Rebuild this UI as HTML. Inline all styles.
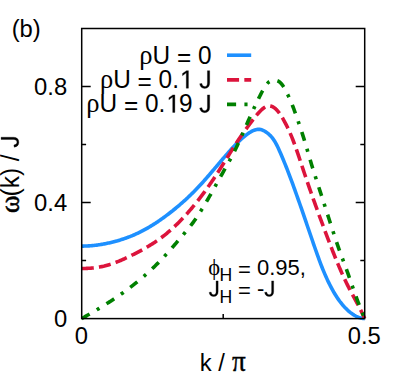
<!DOCTYPE html>
<html><head><meta charset="utf-8"><title>plot</title>
<style>
html,body{margin:0;padding:0;background:#fff;}
body{width:407px;height:375px;overflow:hidden;}
svg{display:block;}
text{font-family:"Liberation Sans",sans-serif;fill:#000;}
.sy{font-family:"Liberation Serif",serif;}
</style></head><body>
<svg width="407" height="375" viewBox="0 0 407 375">
<rect width="407" height="375" fill="#fff"/>
<g fill="none" stroke-width="3.6" stroke-linejoin="round">
<path d="M81.70,246.10 L82.65,246.10 L83.59,246.08 L84.54,246.06 L85.49,246.03 L86.43,246.00 L87.38,245.95 L88.33,245.90 L89.27,245.84 L90.22,245.77 L91.16,245.70 L92.11,245.61 L93.06,245.52 L94.00,245.42 L94.95,245.32 L95.90,245.21 L96.84,245.09 L97.79,244.96 L98.74,244.82 L99.68,244.68 L100.63,244.53 L101.58,244.38 L102.52,244.22 L103.47,244.05 L104.42,243.87 L105.36,243.69 L106.31,243.50 L107.26,243.30 L108.20,243.10 L109.15,242.89 L110.09,242.68 L111.04,242.46 L111.99,242.23 L112.93,242.00 L113.88,241.76 L114.83,241.51 L115.77,241.25 L116.72,240.99 L117.67,240.73 L118.61,240.45 L119.56,240.17 L120.51,239.88 L121.45,239.58 L122.40,239.28 L123.35,238.96 L124.29,238.64 L125.24,238.32 L126.18,237.98 L127.13,237.64 L128.08,237.28 L129.02,236.92 L129.97,236.56 L130.92,236.18 L131.86,235.79 L132.81,235.40 L133.76,234.99 L134.70,234.58 L135.65,234.16 L136.60,233.73 L137.54,233.29 L138.49,232.84 L139.44,232.38 L140.38,231.91 L141.33,231.43 L142.28,230.94 L143.22,230.45 L144.17,229.94 L145.11,229.42 L146.06,228.90 L147.01,228.36 L147.95,227.82 L148.90,227.27 L149.85,226.71 L150.79,226.14 L151.74,225.56 L152.69,224.97 L153.63,224.37 L154.58,223.77 L155.53,223.16 L156.47,222.53 L157.42,221.90 L158.37,221.27 L159.31,220.62 L160.26,219.97 L161.21,219.31 L162.15,218.64 L163.10,217.96 L164.04,217.28 L164.99,216.58 L165.94,215.88 L166.88,215.18 L167.83,214.46 L168.78,213.74 L169.72,213.01 L170.67,212.28 L171.62,211.54 L172.56,210.79 L173.51,210.03 L174.46,209.26 L175.40,208.49 L176.35,207.71 L177.30,206.92 L178.24,206.13 L179.19,205.32 L180.13,204.51 L181.08,203.69 L182.03,202.86 L182.97,202.02 L183.92,201.18 L184.87,200.32 L185.81,199.46 L186.76,198.58 L187.71,197.70 L188.65,196.80 L189.60,195.90 L190.55,194.99 L191.49,194.06 L192.44,193.13 L193.39,192.19 L194.33,191.23 L195.28,190.27 L196.23,189.30 L197.17,188.31 L198.12,187.31 L199.06,186.31 L200.01,185.29 L200.96,184.26 L201.90,183.22 L202.85,182.17 L203.80,181.11 L204.74,180.04 L205.69,178.96 L206.64,177.88 L207.58,176.79 L208.53,175.70 L209.48,174.60 L210.42,173.50 L211.37,172.39 L212.32,171.28 L213.26,170.17 L214.21,169.05 L215.15,167.94 L216.10,166.82 L217.05,165.71 L217.99,164.59 L218.94,163.48 L219.89,162.36 L220.83,161.25 L221.78,160.15 L222.73,159.04 L223.67,157.94 L224.62,156.84 L225.57,155.75 L226.51,154.66 L227.46,153.58 L228.41,152.50 L229.35,151.44 L230.30,150.38 L231.25,149.33 L232.19,148.30 L233.14,147.27 L234.08,146.26 L235.03,145.27 L235.98,144.29 L236.92,143.32 L237.87,142.38 L238.82,141.45 L239.76,140.54 L240.71,139.66 L241.66,138.79 L242.60,137.95 L243.55,137.14 L244.50,136.35 L245.44,135.59 L246.39,134.86 L247.34,134.16 L248.28,133.49 L249.23,132.85 L250.17,132.25 L251.12,131.68 L252.07,131.17 L253.01,130.70 L253.96,130.30 L254.91,129.95 L255.85,129.68 L256.80,129.48 L257.75,129.36 L258.69,129.32 L259.64,129.38 L260.59,129.53 L261.53,129.78 L262.48,130.11 L263.43,130.53 L264.37,131.03 L265.32,131.59 L266.27,132.23 L267.21,132.92 L268.16,133.67 L269.10,134.48 L270.05,135.37 L271.00,136.34 L271.94,137.42 L272.89,138.62 L273.84,139.96 L274.78,141.44 L275.73,143.08 L276.68,144.87 L277.62,146.79 L278.57,148.81 L279.52,150.91 L280.46,153.06 L281.41,155.25 L282.36,157.49 L283.30,159.76 L284.25,162.07 L285.19,164.41 L286.14,166.79 L287.09,169.20 L288.03,171.64 L288.98,174.11 L289.93,176.60 L290.87,179.13 L291.82,181.67 L292.77,184.24 L293.71,186.83 L294.66,189.45 L295.61,192.08 L296.55,194.73 L297.50,197.40 L298.45,200.08 L299.39,202.78 L300.34,205.49 L301.29,208.21 L302.23,210.94 L303.18,213.68 L304.12,216.43 L305.07,219.19 L306.02,221.94 L306.96,224.71 L307.91,227.47 L308.86,230.24 L309.80,233.01 L310.75,235.77 L311.70,238.53 L312.64,241.29 L313.59,244.04 L314.54,246.78 L315.48,249.49 L316.43,252.18 L317.38,254.84 L318.32,257.47 L319.27,260.05 L320.22,262.58 L321.16,265.06 L322.11,267.48 L323.05,269.84 L324.00,272.13 L324.95,274.36 L325.89,276.52 L326.84,278.62 L327.79,280.66 L328.73,282.64 L329.68,284.56 L330.63,286.42 L331.57,288.21 L332.52,289.94 L333.47,291.62 L334.41,293.23 L335.36,294.79 L336.31,296.29 L337.25,297.73 L338.20,299.12 L339.14,300.45 L340.09,301.74 L341.04,302.96 L341.98,304.14 L342.93,305.27 L343.88,306.35 L344.82,307.38 L345.77,308.36 L346.72,309.30 L347.66,310.19 L348.61,311.04 L349.56,311.84 L350.50,312.60 L351.45,313.32 L352.40,313.99 L353.34,314.63 L354.29,315.22 L355.24,315.78 L356.18,316.29 L357.13,316.75 L358.07,317.17 L359.02,317.54 L359.97,317.85 L360.91,318.12 L361.86,318.33 L362.81,318.48 L363.75,318.57 L364.70,318.60" stroke="#1e90ff"/>
<path d="M81.70,268.50 L82.65,268.50 L83.59,268.49 L84.54,268.47 L85.49,268.44 L86.43,268.41 L87.38,268.36 L88.33,268.31 L89.27,268.25 L90.22,268.19 L91.16,268.11 L92.11,268.02 L93.06,267.93 L94.00,267.82 L94.95,267.71 L95.90,267.58 L96.84,267.45 L97.79,267.30 L98.74,267.15 L99.68,266.98 L100.63,266.81 L101.58,266.62 L102.52,266.42 L103.47,266.21 L104.42,265.99 L105.36,265.75 L106.31,265.51 L107.26,265.25 L108.20,264.98 L109.15,264.69 L110.09,264.40 L111.04,264.10 L111.99,263.78 L112.93,263.45 L113.88,263.12 L114.83,262.77 L115.77,262.41 L116.72,262.05 L117.67,261.68 L118.61,261.29 L119.56,260.90 L120.51,260.50 L121.45,260.10 L122.40,259.68 L123.35,259.26 L124.29,258.84 L125.24,258.40 L126.18,257.96 L127.13,257.52 L128.08,257.07 L129.02,256.61 L129.97,256.15 L130.92,255.69 L131.86,255.22 L132.81,254.75 L133.76,254.27 L134.70,253.79 L135.65,253.31 L136.60,252.82 L137.54,252.33 L138.49,251.83 L139.44,251.33 L140.38,250.83 L141.33,250.32 L142.28,249.80 L143.22,249.28 L144.17,248.75 L145.11,248.21 L146.06,247.66 L147.01,247.11 L147.95,246.55 L148.90,245.99 L149.85,245.41 L150.79,244.83 L151.74,244.23 L152.69,243.63 L153.63,243.02 L154.58,242.40 L155.53,241.77 L156.47,241.12 L157.42,240.47 L158.37,239.80 L159.31,239.13 L160.26,238.44 L161.21,237.74 L162.15,237.03 L163.10,236.30 L164.04,235.57 L164.99,234.81 L165.94,234.05 L166.88,233.27 L167.83,232.48 L168.78,231.68 L169.72,230.86 L170.67,230.03 L171.62,229.18 L172.56,228.33 L173.51,227.46 L174.46,226.57 L175.40,225.68 L176.35,224.77 L177.30,223.85 L178.24,222.91 L179.19,221.96 L180.13,221.00 L181.08,220.03 L182.03,219.04 L182.97,218.04 L183.92,217.03 L184.87,216.00 L185.81,214.97 L186.76,213.92 L187.71,212.85 L188.65,211.78 L189.60,210.69 L190.55,209.59 L191.49,208.47 L192.44,207.35 L193.39,206.21 L194.33,205.06 L195.28,203.89 L196.23,202.72 L197.17,201.53 L198.12,200.33 L199.06,199.11 L200.01,197.89 L200.96,196.65 L201.90,195.40 L202.85,194.13 L203.80,192.86 L204.74,191.57 L205.69,190.27 L206.64,188.96 L207.58,187.64 L208.53,186.30 L209.48,184.95 L210.42,183.59 L211.37,182.22 L212.32,180.83 L213.26,179.44 L214.21,178.03 L215.15,176.61 L216.10,175.17 L217.05,173.73 L217.99,172.27 L218.94,170.80 L219.89,169.32 L220.83,167.83 L221.78,166.33 L222.73,164.82 L223.67,163.31 L224.62,161.79 L225.57,160.26 L226.51,158.74 L227.46,157.21 L228.41,155.68 L229.35,154.16 L230.30,152.64 L231.25,151.12 L232.19,149.62 L233.14,148.11 L234.08,146.62 L235.03,145.14 L235.98,143.67 L236.92,142.22 L237.87,140.78 L238.82,139.35 L239.76,137.95 L240.71,136.56 L241.66,135.19 L242.60,133.84 L243.55,132.51 L244.50,131.18 L245.44,129.87 L246.39,128.57 L247.34,127.27 L248.28,125.99 L249.23,124.70 L250.17,123.42 L251.12,122.15 L252.07,120.88 L253.01,119.63 L253.96,118.40 L254.91,117.19 L255.85,116.01 L256.80,114.86 L257.75,113.75 L258.69,112.69 L259.64,111.67 L260.59,110.71 L261.53,109.81 L262.48,108.97 L263.43,108.22 L264.37,107.55 L265.32,106.99 L266.27,106.53 L267.21,106.19 L268.16,105.97 L269.10,105.89 L270.05,105.94 L271.00,106.13 L271.94,106.44 L272.89,106.88 L273.84,107.44 L274.78,108.13 L275.73,108.95 L276.68,109.88 L277.62,110.93 L278.57,112.09 L279.52,113.36 L280.46,114.72 L281.41,116.18 L282.36,117.72 L283.30,119.34 L284.25,121.04 L285.19,122.81 L286.14,124.64 L287.09,126.53 L288.03,128.50 L288.98,130.54 L289.93,132.65 L290.87,134.85 L291.82,137.14 L292.77,139.52 L293.71,141.99 L294.66,144.54 L295.61,147.17 L296.55,149.87 L297.50,152.62 L298.45,155.41 L299.39,158.23 L300.34,161.08 L301.29,163.93 L302.23,166.79 L303.18,169.63 L304.12,172.46 L305.07,175.27 L306.02,178.06 L306.96,180.84 L307.91,183.59 L308.86,186.34 L309.80,189.06 L310.75,191.77 L311.70,194.46 L312.64,197.14 L313.59,199.81 L314.54,202.46 L315.48,205.09 L316.43,207.72 L317.38,210.33 L318.32,212.93 L319.27,215.51 L320.22,218.09 L321.16,220.65 L322.11,223.20 L323.05,225.74 L324.00,228.27 L324.95,230.79 L325.89,233.30 L326.84,235.80 L327.79,238.29 L328.73,240.77 L329.68,243.25 L330.63,245.70 L331.57,248.15 L332.52,250.57 L333.47,252.98 L334.41,255.36 L335.36,257.72 L336.31,260.05 L337.25,262.36 L338.20,264.63 L339.14,266.87 L340.09,269.07 L341.04,271.24 L341.98,273.37 L342.93,275.47 L343.88,277.52 L344.82,279.54 L345.77,281.53 L346.72,283.47 L347.66,285.38 L348.61,287.24 L349.56,289.07 L350.50,290.86 L351.45,292.63 L352.40,294.37 L353.34,296.11 L354.29,297.84 L355.24,299.57 L356.18,301.31 L357.13,303.07 L358.07,304.86 L359.02,306.68 L359.97,308.54 L360.91,310.45 L361.86,312.42 L362.81,314.44 L363.75,316.51 L364.70,318.60" stroke="#dc143c" stroke-dasharray="12.085 5.24"/>
<path d="M81.70,318.60 L82.65,318.05 L83.59,317.51 L84.54,316.96 L85.49,316.41 L86.43,315.86 L87.38,315.31 L88.33,314.77 L89.27,314.21 L90.22,313.66 L91.16,313.11 L92.11,312.55 L93.06,312.00 L94.00,311.44 L94.95,310.88 L95.90,310.32 L96.84,309.75 L97.79,309.18 L98.74,308.61 L99.68,308.04 L100.63,307.47 L101.58,306.89 L102.52,306.31 L103.47,305.72 L104.42,305.13 L105.36,304.54 L106.31,303.95 L107.26,303.35 L108.20,302.74 L109.15,302.14 L110.09,301.53 L111.04,300.91 L111.99,300.29 L112.93,299.66 L113.88,299.03 L114.83,298.40 L115.77,297.76 L116.72,297.12 L117.67,296.47 L118.61,295.82 L119.56,295.16 L120.51,294.50 L121.45,293.83 L122.40,293.16 L123.35,292.48 L124.29,291.79 L125.24,291.10 L126.18,290.41 L127.13,289.71 L128.08,289.00 L129.02,288.29 L129.97,287.57 L130.92,286.85 L131.86,286.12 L132.81,285.38 L133.76,284.64 L134.70,283.89 L135.65,283.14 L136.60,282.38 L137.54,281.61 L138.49,280.83 L139.44,280.05 L140.38,279.26 L141.33,278.47 L142.28,277.66 L143.22,276.85 L144.17,276.03 L145.11,275.20 L146.06,274.37 L147.01,273.52 L147.95,272.67 L148.90,271.81 L149.85,270.94 L150.79,270.06 L151.74,269.17 L152.69,268.27 L153.63,267.36 L154.58,266.45 L155.53,265.52 L156.47,264.58 L157.42,263.64 L158.37,262.68 L159.31,261.71 L160.26,260.73 L161.21,259.74 L162.15,258.74 L163.10,257.73 L164.04,256.72 L164.99,255.69 L165.94,254.65 L166.88,253.61 L167.83,252.56 L168.78,251.50 L169.72,250.43 L170.67,249.36 L171.62,248.28 L172.56,247.20 L173.51,246.11 L174.46,245.01 L175.40,243.91 L176.35,242.81 L177.30,241.70 L178.24,240.60 L179.19,239.48 L180.13,238.37 L181.08,237.25 L182.03,236.13 L182.97,235.01 L183.92,233.89 L184.87,232.77 L185.81,231.65 L186.76,230.52 L187.71,229.38 L188.65,228.22 L189.60,227.05 L190.55,225.85 L191.49,224.63 L192.44,223.38 L193.39,222.10 L194.33,220.79 L195.28,219.45 L196.23,218.08 L197.17,216.68 L198.12,215.25 L199.06,213.80 L200.01,212.32 L200.96,210.82 L201.90,209.29 L202.85,207.75 L203.80,206.19 L204.74,204.60 L205.69,203.01 L206.64,201.39 L207.58,199.76 L208.53,198.12 L209.48,196.47 L210.42,194.81 L211.37,193.13 L212.32,191.45 L213.26,189.77 L214.21,188.07 L215.15,186.38 L216.10,184.68 L217.05,182.98 L217.99,181.28 L218.94,179.58 L219.89,177.88 L220.83,176.19 L221.78,174.50 L222.73,172.82 L223.67,171.14 L224.62,169.47 L225.57,167.80 L226.51,166.12 L227.46,164.43 L228.41,162.73 L229.35,161.01 L230.30,159.28 L231.25,157.52 L232.19,155.74 L233.14,153.93 L234.08,152.08 L235.03,150.20 L235.98,148.28 L236.92,146.31 L237.87,144.30 L238.82,142.26 L239.76,140.17 L240.71,138.06 L241.66,135.93 L242.60,133.78 L243.55,131.61 L244.50,129.44 L245.44,127.26 L246.39,125.09 L247.34,122.92 L248.28,120.76 L249.23,118.62 L250.17,116.49 L251.12,114.39 L252.07,112.30 L253.01,110.24 L253.96,108.20 L254.91,106.18 L255.85,104.20 L256.80,102.23 L257.75,100.30 L258.69,98.38 L259.64,96.50 L260.59,94.63 L261.53,92.79 L262.48,91.01 L263.43,89.29 L264.37,87.68 L265.32,86.18 L266.27,84.82 L267.21,83.63 L268.16,82.63 L269.10,81.84 L270.05,81.24 L271.00,80.81 L271.94,80.51 L272.89,80.32 L273.84,80.21 L274.78,80.19 L275.73,80.27 L276.68,80.47 L277.62,80.81 L278.57,81.29 L279.52,81.94 L280.46,82.76 L281.41,83.77 L282.36,84.98 L283.30,86.35 L284.25,87.87 L285.19,89.53 L286.14,91.31 L287.09,93.20 L288.03,95.17 L288.98,97.22 L289.93,99.35 L290.87,101.55 L291.82,103.84 L292.77,106.22 L293.71,108.70 L294.66,111.27 L295.61,113.92 L296.55,116.63 L297.50,119.37 L298.45,122.13 L299.39,124.90 L300.34,127.68 L301.29,130.50 L302.23,133.38 L303.18,136.33 L304.12,139.37 L305.07,142.49 L306.02,145.67 L306.96,148.88 L307.91,152.12 L308.86,155.36 L309.80,158.58 L310.75,161.77 L311.70,164.90 L312.64,167.99 L313.59,171.02 L314.54,174.02 L315.48,176.99 L316.43,179.94 L317.38,182.87 L318.32,185.79 L319.27,188.70 L320.22,191.62 L321.16,194.55 L322.11,197.48 L323.05,200.42 L324.00,203.35 L324.95,206.29 L325.89,209.23 L326.84,212.17 L327.79,215.11 L328.73,218.05 L329.68,220.99 L330.63,223.92 L331.57,226.86 L332.52,229.78 L333.47,232.70 L334.41,235.62 L335.36,238.51 L336.31,241.36 L337.25,244.16 L338.20,246.89 L339.14,249.57 L340.09,252.20 L341.04,254.79 L341.98,257.35 L342.93,259.89 L343.88,262.43 L344.82,264.97 L345.77,267.53 L346.72,270.11 L347.66,272.73 L348.61,275.39 L349.56,278.08 L350.50,280.79 L351.45,283.51 L352.40,286.23 L353.34,288.95 L354.29,291.64 L355.24,294.31 L356.18,296.93 L357.13,299.51 L358.07,302.03 L359.02,304.49 L359.97,306.91 L360.91,309.30 L361.86,311.65 L362.81,313.98 L363.75,316.29 L364.70,318.60" stroke="#008000" stroke-dasharray="9.11 8.30 3.14 8.30"/>
<path d="M227,55.2 H251.2" stroke="#1e90ff"/>
<path d="M227,79.9 H251.2" stroke="#dc143c" stroke-dasharray="12.085 5.24"/>
<path d="M227,104.4 H251.2" stroke="#008000" stroke-dasharray="9.11 8.30 3.14 8.30"/>
</g>
<g fill="none" stroke="#000" stroke-width="1.5">
<rect x="81.7" y="28.5" width="283.00" height="290.10"/>
<path d="M81.7,260.58 h4.4 M364.7,260.58 h-4.4"/><path d="M81.7,202.56 h9 M364.7,202.56 h-9"/><path d="M81.7,144.54 h4.4 M364.7,144.54 h-4.4"/><path d="M81.7,86.52 h9 M364.7,86.52 h-9"/><path d="M223.20,318.6 v-4.6"/>
</g>
<text transform="translate(11.70,37.40) scale(1,1.0436)" font-size="23.8" text-anchor="start">(b)</text>
<text transform="translate(67.20,95.20) scale(1,1.0436)" font-size="23.8" text-anchor="end">0.8</text>
<text transform="translate(67.20,211.20) scale(1,1.0436)" font-size="23.8" text-anchor="end">0.4</text>
<text transform="translate(67.20,327.20) scale(1,1.0436)" font-size="23.8" text-anchor="end">0</text>
<text transform="translate(81.30,343.80) scale(1,1.0436)" font-size="23.8" text-anchor="middle">0</text>
<text transform="translate(364.30,343.80) scale(1,1.0436)" font-size="23.8" text-anchor="middle">0.5</text>
<text transform="translate(199.80,370.60) scale(1,1.0436)" font-size="23.8" text-anchor="start">k / <tspan dx="0.6"><tspan class="sy" font-size="27.2" stroke="#000" stroke-width="0.35">π</tspan></tspan></text>
<text transform="translate(18.60,213.10) rotate(-90) scale(1,1.0436)" font-size="24.4" text-anchor="start"><tspan class="sy" font-size="26.6" stroke="#000" stroke-width="0.5">ω</tspan><tspan dx="-0.8">(k) /</tspan></text>
<path transform="translate(18.60,213.10) rotate(-90) translate(65.50,0) scale(0.011914,-0.012434)" d="M457 -20Q99 -20 32 350L219 381Q237 265 300 200Q363 135 458 135Q562 135 622 206.5Q682 278 682 416V1409H872V420Q872 215 761 97.5Q650 -20 457 -20Z" stroke="#000" stroke-width="25.2" stroke-linejoin="round"/>
<text transform="translate(211.50,63.90) scale(1,1.0436)" font-size="24.4" text-anchor="end"><tspan class="sy" font-size="26.6">ρ</tspan>U <tspan dy="1.79">=</tspan><tspan dy="-1.79"> </tspan>0</text>
<path transform="translate(199.30,88.20) translate(0.00,0) scale(0.011914,-0.012434)" d="M457 -20Q99 -20 32 350L219 381Q237 265 300 200Q363 135 458 135Q562 135 622 206.5Q682 278 682 416V1409H872V420Q872 215 761 97.5Q650 -20 457 -20Z" stroke="#000" stroke-width="25.2" stroke-linejoin="round"/>
<path transform="translate(178.95,88.20) translate(0.00,0) scale(0.011914,-0.012434)" d="M615 0V1237L297 1010V1180L630 1409H796V0Z" stroke="#000" stroke-width="25.2" stroke-linejoin="round"/>
<text transform="translate(178.95,88.20) scale(1,1.0436)" font-size="24.4" text-anchor="end"><tspan class="sy" font-size="26.6">ρ</tspan>U <tspan dy="1.79">=</tspan><tspan dy="-1.79"> </tspan>0.</text>
<path transform="translate(199.30,112.40) translate(0.00,0) scale(0.011914,-0.012434)" d="M457 -20Q99 -20 32 350L219 381Q237 265 300 200Q363 135 458 135Q562 135 622 206.5Q682 278 682 416V1409H872V420Q872 215 761 97.5Q650 -20 457 -20Z" stroke="#000" stroke-width="25.2" stroke-linejoin="round"/>
<text transform="translate(178.95,112.40) scale(1,1.0436)" font-size="24.4" text-anchor="start">9</text>
<path transform="translate(165.38,112.40) translate(0.00,0) scale(0.011914,-0.012434)" d="M615 0V1237L297 1010V1180L630 1409H796V0Z" stroke="#000" stroke-width="25.2" stroke-linejoin="round"/>
<text transform="translate(165.38,112.40) scale(1,1.0436)" font-size="24.4" text-anchor="end"><tspan class="sy" font-size="26.6">ρ</tspan>U <tspan dy="1.79">=</tspan><tspan dy="-1.79"> </tspan>0.</text>
<text transform="translate(208.30,274.90) scale(1,1.012)" font-size="22" text-anchor="start"><tspan class="sy" font-size="22.5">ϕ</tspan></text>
<text transform="translate(219.40,281.30) scale(1,1.012)" font-size="17.6" text-anchor="start">H</text>
<text transform="translate(238.00,274.90) scale(1,1.012)" font-size="22" text-anchor="start"><tspan dy="1.66">=</tspan><tspan dy="-1.66"> </tspan>0.95,</text>
<path transform="translate(208.76,296.20) translate(0.00,0) scale(0.010742,-0.010871)" d="M457 -20Q99 -20 32 350L219 381Q237 265 300 200Q363 135 458 135Q562 135 622 206.5Q682 278 682 416V1409H872V420Q872 215 761 97.5Q650 -20 457 -20Z" stroke="#000" stroke-width="27.9" stroke-linejoin="round"/>
<text transform="translate(219.40,302.60) scale(1,1.012)" font-size="17.6" text-anchor="start">H</text>
<text transform="translate(238.00,296.20) scale(1,1.012)" font-size="22" text-anchor="start"><tspan dy="1.66">=</tspan><tspan dy="-1.66"> </tspan>-</text>
<path transform="translate(264.29,296.20) translate(0.00,0) scale(0.010742,-0.010871)" d="M457 -20Q99 -20 32 350L219 381Q237 265 300 200Q363 135 458 135Q562 135 622 206.5Q682 278 682 416V1409H872V420Q872 215 761 97.5Q650 -20 457 -20Z" stroke="#000" stroke-width="27.9" stroke-linejoin="round"/>

</svg>
</body></html>
